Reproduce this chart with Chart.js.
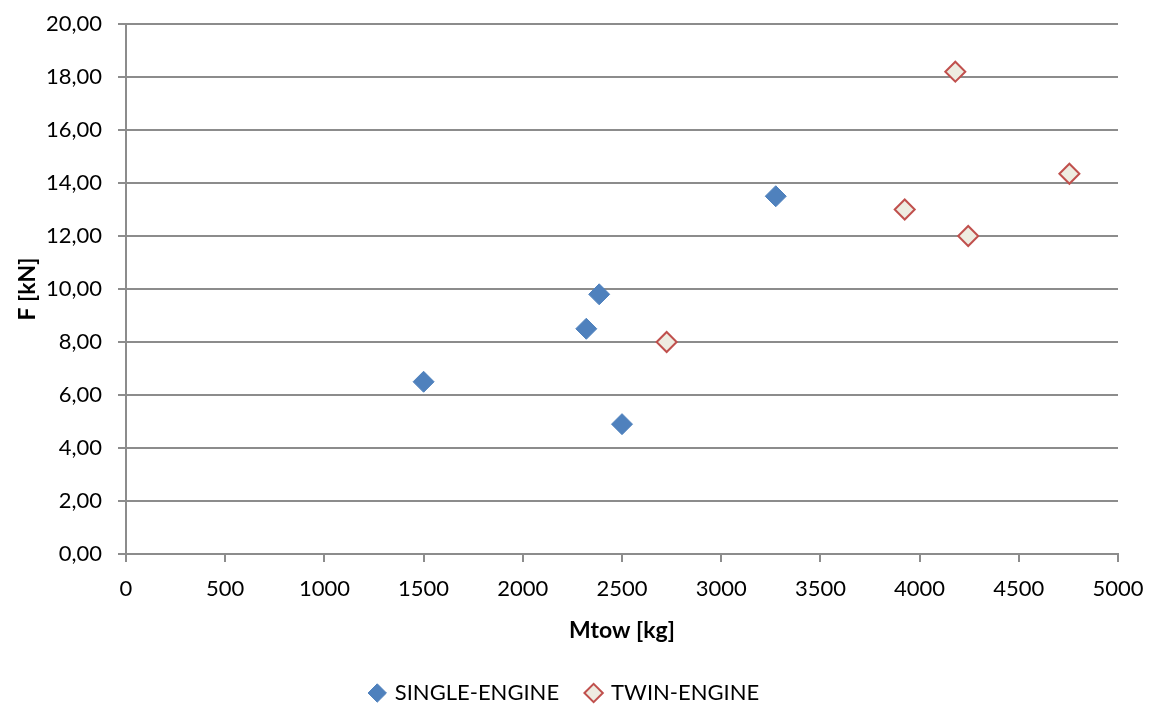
<!DOCTYPE html>
<html>
<head>
<meta charset="utf-8">
<script src="https://cdn.jsdelivr.net/npm/chart.js@4"></script>
<style>
  html, body { margin: 0; padding: 0; background: #fff; }
  #wrap { width: 1159px; height: 711px; }
</style>
</head>
<body>
<div id="wrap"><canvas id="chart" width="1159" height="711"></canvas></div>
<script>
// Series values
const singleMtow = [1500, 2320, 2385, 2500, 3275];
const singleForce = [6.5, 8.5, 9.8, 4.9, 13.5];
const twinMtow = [2725, 3925, 4180, 4245, 4755];
const twinForce = [8.0, 13.0, 18.2, 12.0, 14.35];
const seriesNames = ['SINGLE-ENGINE', 'TWIN-ENGINE'];

const toPoints = (xs, ys) => xs.map((x, i) => ({ x: x, y: ys[i] }));
const font = 'Lato, "Open Sans", sans-serif';

new Chart(document.getElementById('chart').getContext('2d'), {
  type: 'scatter',
  data: {
    datasets: [{
      label: seriesNames[0],
      data: toPoints(singleMtow, singleForce),
      pointStyle: 'rectRot',
      pointRadius: 10.5,
      pointHoverRadius: 10.5,
      backgroundColor: '#4F81BD',
      borderColor: '#4F81BD',
      borderWidth: 1
    }, {
      label: seriesNames[1],
      data: toPoints(twinMtow, twinForce),
      pointStyle: 'rectRot',
      pointRadius: 10,
      pointHoverRadius: 10,
      backgroundColor: '#EEECE1',
      borderColor: '#C0504D',
      borderWidth: 2
    }]
  },
  options: {
    responsive: false,
    animation: false,
    layout: { padding: { left: 12, right: 41, top: 24, bottom: -3 } },
    plugins: {
      tooltip: { enabled: false },
      legend: {
        position: 'bottom',
        labels: {
          usePointStyle: true,
          boxWidth: 13,
          boxHeight: 13,
          padding: 28,
          color: '#000',
          font: { family: font, size: 22 }
        }
      }
    },
    scales: {
      x: {
        type: 'linear',
        min: 0,
        max: 5000,
        ticks: {
          stepSize: 500,
          color: '#000',
          padding: 14,
          font: { family: font, size: 22 },
          callback: v => String(v)
        },
        grid: { drawOnChartArea: false, color: '#8c8c8c', lineWidth: 2, tickLength: 8 },
        border: { color: '#8c8c8c', width: 2 },
        title: {
          display: true,
          text: 'Mtow [kg]',
          color: '#000',
          font: { family: font, size: 23, weight: 'bold' },
          padding: { top: 4, bottom: 10 }
        },
        afterFit: s => { s.height = 100; }
      },
      y: {
        min: 0,
        max: 20,
        ticks: {
          stepSize: 2,
          color: '#000',
          padding: 16,
          font: { family: font, size: 22 },
          callback: v => v.toFixed(2).replace('.', ',')
        },
        grid: { color: '#8c8c8c', lineWidth: 2, tickLength: 8 },
        border: { color: '#8c8c8c', width: 2 },
        title: {
          display: true,
          text: 'F [kN]',
          color: '#000',
          font: { family: font, size: 23, weight: 'bold' },
          padding: { top: 2, bottom: 0 }
        },
        afterFit: s => { s.width = 114; s.paddingTop = 0; }
      }
    }
  }
});
</script>
</body>
</html>
